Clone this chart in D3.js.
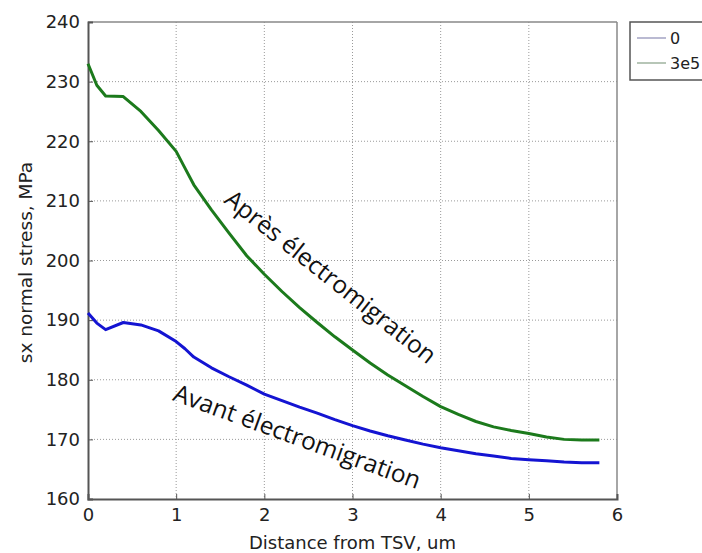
<!DOCTYPE html>
<html>
<head>
<meta charset="utf-8">
<script src="https://cdn.jsdelivr.net/npm/d3@7"></script>
<style>
  html, body { margin: 0; padding: 0; background: #fff; }
  svg { display: block; }
</style>
</head>
<body>
<div id="chart"></div>
<script>
// Data
const distance = [0, 0.1, 0.2, 0.4, 0.6, 0.8, 1.0, 1.1, 1.2, 1.4, 1.6, 1.8, 2.0, 2.2, 2.4, 2.6, 2.8,
                  3.0, 3.2, 3.4, 3.6, 3.8, 4.0, 4.2, 4.4, 4.6, 4.8, 5.0, 5.2, 5.4, 5.6, 5.8];
const stressBefore = [191.2, 189.5, 188.4, 189.6, 189.2, 188.2, 186.4, 185.2, 183.8, 182.0, 180.5, 179.1, 177.6,
                      176.5, 175.4, 174.4, 173.3, 172.3, 171.4, 170.6, 169.9, 169.2, 168.6, 168.1, 167.6,
                      167.2, 166.8, 166.6, 166.4, 166.2, 166.1, 166.1];
const stressAfter = [233.0, 229.4, 227.6, 227.5, 225.0, 221.8, 218.3, 215.5, 212.7, 208.5, 204.6, 200.8, 197.7,
                     194.8, 192.1, 189.6, 187.2, 185.0, 182.8, 180.8, 179.0, 177.2, 175.5, 174.2, 173.0,
                     172.1, 171.5, 171.0, 170.4, 170.0, 169.9, 169.9];
const seriesNames = ["0", "3e5"];
const xTicks = [0, 1, 2, 3, 4, 5, 6];
const yTicks = [160, 170, 180, 190, 200, 210, 220, 230, 240];

const W = 702, H = 553;
const margin = { top: 22, right: 85, bottom: 54, left: 88 };
const width = W - margin.left - margin.right;
const height = H - margin.top - margin.bottom;

const BLUE = "#1414d2";
const GREEN = "#1c7a1c";
const FONT = "'DejaVu Sans', Verdana, sans-serif";

const svg = d3.select("#chart").append("svg")
  .attr("width", W).attr("height", H);

const g = svg.append("g")
  .attr("transform", `translate(${margin.left},${margin.top})`);

const x = d3.scaleLinear().domain([0, 6]).range([0, width]);
const y = d3.scaleLinear().domain([160, 240]).range([height, 0]);

// Grid
g.append("g")
  .selectAll("line")
  .data(xTicks.slice(1, -1))
  .join("line")
    .attr("x1", d => x(d)).attr("x2", d => x(d))
    .attr("y1", 0).attr("y2", height)
    .attr("stroke", "#9a9a9a").attr("stroke-width", 1)
    .attr("stroke-dasharray", "1 2");

g.append("g")
  .selectAll("line")
  .data(yTicks.slice(1, -1))
  .join("line")
    .attr("x1", 0).attr("x2", width)
    .attr("y1", d => y(d)).attr("y2", d => y(d))
    .attr("stroke", "#9a9a9a").attr("stroke-width", 1)
    .attr("stroke-dasharray", "1 2");

// Frame: top/right lighter
g.append("line").attr("x1", 0).attr("x2", width).attr("y1", 0).attr("y2", 0)
  .attr("stroke", "#888").attr("stroke-width", 1.5);
g.append("line").attr("x1", width).attr("x2", width).attr("y1", 0).attr("y2", height)
  .attr("stroke", "#888").attr("stroke-width", 1.5);

// Axes
const xAxis = d3.axisBottom(x).tickValues(xTicks).tickFormat(d3.format("d")).tickSize(-5).tickPadding(9);
const yAxis = d3.axisLeft(y).tickValues(yTicks).tickFormat(d3.format("d")).tickSize(-5).tickPadding(8);

const gx = g.append("g")
  .attr("transform", `translate(0,${height})`)
  .call(xAxis);
const gy = g.append("g").call(yAxis);

[gx, gy].forEach(a => {
  a.select(".domain").attr("stroke", "#555").attr("stroke-width", 2);
  a.selectAll(".tick line").attr("stroke", "#555");
  a.selectAll(".tick text")
    .attr("font-family", FONT).attr("font-size", 18).attr("fill", "#222");
});

// Lines
const line = d3.line()
  .x((d, i) => x(distance[i]))
  .y(d => y(d));

g.append("path")
  .datum(stressBefore)
  .attr("fill", "none")
  .attr("stroke", BLUE)
  .attr("stroke-width", 3)
  .attr("stroke-linejoin", "round")
  .attr("d", line);

g.append("path")
  .datum(stressAfter)
  .attr("fill", "none")
  .attr("stroke", GREEN)
  .attr("stroke-width", 3)
  .attr("stroke-linejoin", "round")
  .attr("d", line);

// Annotations along the curves
g.append("text")
  .attr("transform", `translate(${x(1.53)},${y(209.8)}) rotate(38.5)`)
  .attr("font-family", "'Open Sans', sans-serif")
  .attr("font-size", 24.5)
  .attr("fill", "#111")
  .text("Après électromigration");

g.append("text")
  .attr("transform", `translate(${x(0.95)},${y(176.6)}) rotate(20)`)
  .attr("font-family", "'Open Sans', sans-serif")
  .attr("font-size", 24.5)
  .attr("fill", "#111")
  .text("Avant électromigration");

// Axis titles
svg.append("text")
  .attr("x", margin.left + width / 2)
  .attr("y", H - 4)
  .attr("text-anchor", "middle")
  .attr("font-family", FONT).attr("font-size", 18).attr("fill", "#222")
  .text("Distance from TSV, um");

svg.append("text")
  .attr("transform", `translate(32,${margin.top + height / 2 + 2}) rotate(-90)`)
  .attr("text-anchor", "middle")
  .attr("font-family", FONT).attr("font-size", 18.5).attr("fill", "#222")
  .text("sx normal stress, MPa");

// Legend (box runs off the right edge, as in the original)
const legend = svg.append("g").attr("transform", "translate(630,22)");
legend.append("rect")
  .attr("width", 100).attr("height", 58)
  .attr("fill", "#fff").attr("stroke", "#555").attr("stroke-width", 1.5);

const legendColors = ["#8c8cb4", "#86a086"];
seriesNames.forEach((name, i) => {
  const ly = 16 + i * 25;
  legend.append("line")
    .attr("x1", 7).attr("x2", 36).attr("y1", ly).attr("y2", ly)
    .attr("stroke", legendColors[i]).attr("stroke-width", 1.2);
  legend.append("text")
    .attr("x", 40).attr("y", ly + 6)
    .attr("font-family", FONT).attr("font-size", 16).attr("fill", "#222")
    .text(name);
});
</script>
</body>
</html>
